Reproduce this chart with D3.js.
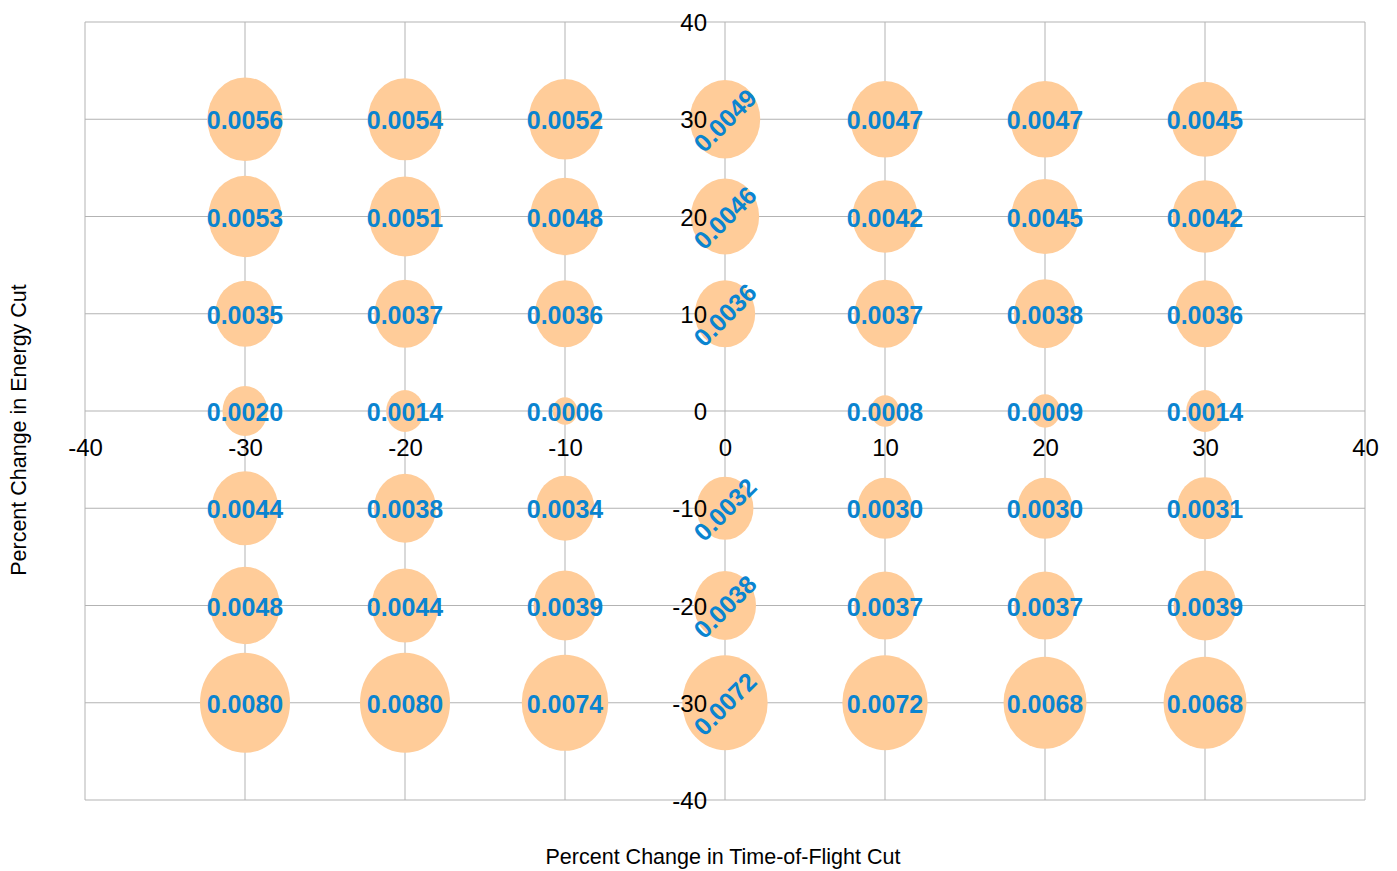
<!DOCTYPE html>
<html>
<head>
<meta charset="utf-8">
<script src="https://cdn.jsdelivr.net/npm/d3@7"></script>
<style>
  html, body { margin: 0; padding: 0; background: #fff; }
  svg { display: block; font-family: "Liberation Sans", Arial, sans-serif; }
</style>
</head>
<body>
<svg id="chart" width="1397" height="871"></svg>
<script>
// Percent changes applied to the time-of-flight cut (x) and energy cut (y)
const tofChanges = [-30, -20, -10, 0, 10, 20, 30];
const energyChanges = [30, 20, 10, 0, -10, -20, -30];

// Resulting value per grid cell, one row per energy change, columns follow tofChanges
const row30  = [0.0056, 0.0054, 0.0052, 0.0049, 0.0047, 0.0047, 0.0045];
const row20  = [0.0053, 0.0051, 0.0048, 0.0046, 0.0042, 0.0045, 0.0042];
const row10  = [0.0035, 0.0037, 0.0036, 0.0036, 0.0037, 0.0038, 0.0036];
const row0   = [0.0020, 0.0014, 0.0006, null,   0.0008, 0.0009, 0.0014];
const rowM10 = [0.0044, 0.0038, 0.0034, 0.0032, 0.0030, 0.0030, 0.0031];
const rowM20 = [0.0048, 0.0044, 0.0039, 0.0038, 0.0037, 0.0037, 0.0039];
const rowM30 = [0.0080, 0.0080, 0.0074, 0.0072, 0.0072, 0.0068, 0.0068];
const rows = [row30, row20, row10, row0, rowM10, rowM20, rowM30];

const tickValues = [-40, -30, -20, -10, 0, 10, 20, 30, 40];
const xTitle = "Percent Change in Time-of-Flight Cut";
const yTitle = "Percent Change in Energy Cut";

// Flatten into points
const points = [];
rows.forEach((row, i) => {
  row.forEach((v, j) => {
    if (v !== null) points.push({ x: tofChanges[j], y: energyChanges[i], v });
  });
});

const svg = d3.select("#chart");
const plot = { left: 85, right: 1365, top: 22, bottom: 800 };

const x = d3.scaleLinear().domain([-40, 40]).range([plot.left, plot.right]);
const y = d3.scaleLinear().domain([-40, 40]).range([plot.bottom, plot.top]);

// Bubble area proportional to value (slightly taller than wide)
const vmax = d3.max(points, d => d.v);
const rx = d3.scaleSqrt().domain([0, vmax]).range([0, 45]);
const ry = d3.scaleSqrt().domain([0, vmax]).range([0, 50]);

const gridColor = "#b3b3b3";
const tickFmt = d => String(d);   // plain hyphen-minus

// Grid lines
svg.append("g")
  .selectAll("line")
  .data(tickValues)
  .join("line")
  .attr("x1", d => x(d)).attr("x2", d => x(d))
  .attr("y1", plot.top).attr("y2", plot.bottom)
  .attr("stroke", gridColor).attr("stroke-width", 1);

svg.append("g")
  .selectAll("line")
  .data(tickValues)
  .join("line")
  .attr("y1", d => y(d)).attr("y2", d => y(d))
  .attr("x1", plot.left).attr("x2", plot.right)
  .attr("stroke", gridColor).attr("stroke-width", 1);

// Bubbles
svg.append("g")
  .selectAll("ellipse")
  .data(points)
  .join("ellipse")
  .attr("cx", d => x(d.x))
  .attr("cy", d => y(d.y))
  .attr("rx", d => rx(d.v))
  .attr("ry", d => ry(d.v))
  .attr("fill", "#ffcc99");

// Axis tick labels, axes cross at the origin
const xAxis = d3.axisBottom(x).tickValues(tickValues).tickSize(0).tickPadding(0)
  .tickFormat(tickFmt);
const gx = svg.append("g").attr("transform", `translate(0,${y(0)})`).call(xAxis);
gx.select(".domain").remove();
gx.selectAll("text")
  .attr("y", 45).attr("dy", null)
  .attr("font-size", 24)
  .attr("font-family", "Liberation Sans, Arial, sans-serif")
  .attr("fill", "#000");

const yAxis = d3.axisLeft(y).tickValues(tickValues).tickSize(0).tickPadding(0)
  .tickFormat(tickFmt);
const gy = svg.append("g").attr("transform", `translate(${x(0) - 18},0)`).call(yAxis);
gy.select(".domain").remove();
gy.selectAll("text")
  .attr("x", 0).attr("dy", "0.36em")
  .attr("font-size", 24)
  .attr("font-family", "Liberation Sans, Arial, sans-serif")
  .attr("fill", "#000");

// Value labels; the x = 0 column is written diagonally
svg.append("g")
  .selectAll("text")
  .data(points)
  .join("text")
  .attr("transform", d => `translate(${x(d.x)},${y(d.y) + 1})` + (d.x === 0 ? " rotate(-45)" : ""))
  .attr("text-anchor", "middle")
  .attr("dy", "0.36em")
  .attr("font-size", 25)
  .attr("font-weight", "bold")
  .attr("fill", "#0a84d0")
  .text(d => d3.format(".4f")(d.v));

// Axis titles
svg.append("text")
  .attr("x", 723)
  .attr("y", 864)
  .attr("text-anchor", "middle")
  .attr("font-size", 21.5)
  .attr("fill", "#000")
  .text(xTitle);

svg.append("text")
  .attr("transform", `translate(26,430) rotate(-90)`)
  .attr("text-anchor", "middle")
  .attr("font-size", 21.5)
  .attr("fill", "#000")
  .text(yTitle);
</script>
</body>
</html>
